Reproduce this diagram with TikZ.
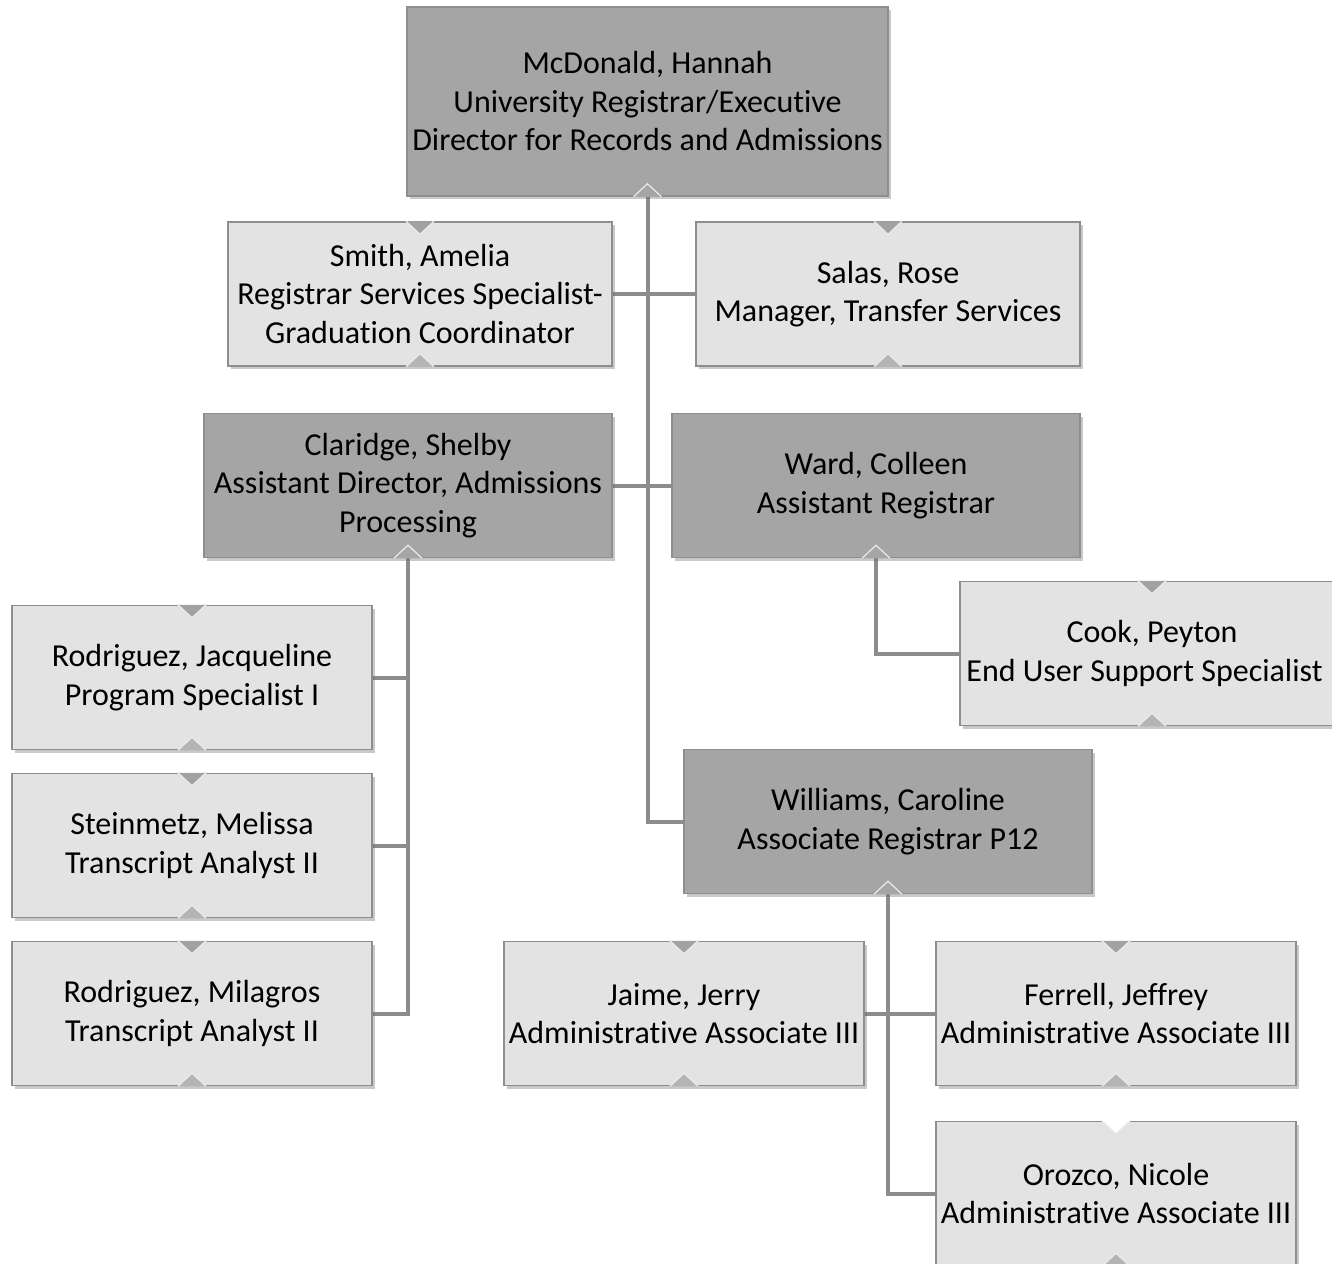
\documentclass[tikz,border=0pt]{standalone}
\usepackage{fontspec}
\setmainfont[Ligatures=NoCommon]{Carlito}
\usetikzlibrary{shadows,backgrounds}
\definecolor{darkfill}{HTML}{A5A5A5}
\definecolor{lightfill}{HTML}{E3E3E3}
\definecolor{edgegray}{HTML}{8E8E8E}
\definecolor{conngray}{HTML}{8C8C8C}
\definecolor{notchdark}{HTML}{A2A2A2}
\definecolor{notchmid}{HTML}{B4B4B4}
\tikzset{
  orgbox/.style={draw=edgegray, line width=1.5pt, align=center, inner sep=0pt,
    font=\fontsize{32}{38.5}\selectfont, text=black,
    drop shadow={shadow xshift=2.5pt, shadow yshift=-3pt, opacity=0.35, fill=black!60}},
  darkbox/.style={orgbox, fill=darkfill},
  lightbox/.style={orgbox, fill=lightfill},
  wide/.style={minimum width=384pt, minimum height=144pt},
  wider/.style={minimum width=408pt, minimum height=144pt},
  narrow/.style={minimum width=360pt, minimum height=144pt},
  conn/.style={draw=conngray, line width=4pt},
  notchedge/.style={draw=white!92!black, line width=1.2pt},
}
\newcommand{\topN}[2][notchdark]{%
  \fill[#1] ([xshift=-14pt]#2.north) -- ([xshift=14pt]#2.north) -- ([yshift=-13pt]#2.north) -- cycle;
  \draw[notchedge] ([xshift=-14pt]#2.north) -- ([yshift=-13pt]#2.north) -- ([xshift=14pt]#2.north);}
\newcommand{\botN}[2][notchmid]{%
  \fill[#1] ([xshift=-14pt]#2.south) -- ([xshift=14pt]#2.south) -- ([yshift=13pt]#2.south) -- cycle;
  \draw[notchedge] ([xshift=-14pt]#2.south) -- ([yshift=13pt]#2.south) -- ([xshift=14pt]#2.south);}
\begin{document}
\begin{tikzpicture}[x=1pt,y=-1pt]
\useasboundingbox (0,0) rectangle (1332,1263);
% boxes
\node[darkbox, minimum width=481pt, minimum height=189pt] (mcd) at (647.5,101.5)
  {McDonald, Hannah\\University Registrar/Executive\\Director for Records and Admissions};
\node[lightbox, wide] (smith) at (420,294)
  {Smith, Amelia\\Registrar Services Specialist-\\Graduation Coordinator};
\node[lightbox, wide] (salas) at (888,294)
  {Salas, Rose\\Manager, Transfer Services};
\node[darkbox, wider] (clar) at (408,485.5)
  {Claridge, Shelby\\Assistant Director, Admissions\\Processing};
\node[darkbox, wider] (ward) at (876,485.5)
  {Ward, Colleen\\Assistant Registrar};
\node[lightbox, wide] (cook) at (1152,653.5)
  {Cook, Peyton\\\hspace*{-15pt}End User Support Specialist};
\node[lightbox, narrow] (rj) at (192,677.5)
  {Rodriguez, Jacqueline\\Program Specialist I};
\node[lightbox, narrow] (sm) at (192,845.5)
  {Steinmetz, Melissa\\Transcript Analyst II};
\node[lightbox, narrow] (rm) at (192,1013.5)
  {Rodriguez, Milagros\\Transcript Analyst II};
\node[darkbox, wider] (will) at (888,821.5)
  {Williams, Caroline\\Associate Registrar P12};
\node[lightbox, narrow] (jaime) at (684,1013.5)
  {Jaime, Jerry\\Administrative Associate III};
\node[lightbox, narrow] (ferrell) at (1116,1013.5)
  {Ferrell, Jeffrey\\Administrative Associate III};
\node[lightbox, narrow] (orozco) at (1116,1193.5)
  {Orozco, Nicole\\Administrative Associate III};
% connectors
\begin{scope}[on background layer]
\fill[white] (0,0) rectangle (1332,1263);
\draw[conn] (mcd.south) |- (will.west);
\draw[conn] (smith.east) -- (salas.west);
\draw[conn] (clar.east) -- (ward.west);
\draw[conn] (clar.south) |- (rj.east);
\draw[conn] (clar.south) |- (sm.east);
\draw[conn] (clar.south) |- (rm.east);
\draw[conn] (ward.south) |- (cook.west);
\draw[conn] (will.south) |- (jaime.east);
\draw[conn] (will.south) |- (ferrell.west);
\draw[conn] (will.south) |- (orozco.west);
\end{scope}
% notches
\botN[darkfill]{mcd}
\botN[darkfill]{clar}
\botN[darkfill]{ward}
\botN[darkfill]{will}
\foreach \n in {smith,salas,cook,rj,sm,rm,jaime,ferrell}{\topN{\n}\botN{\n}}
\topN[white]{orozco}
\botN{orozco}
\end{tikzpicture}
\end{document}
